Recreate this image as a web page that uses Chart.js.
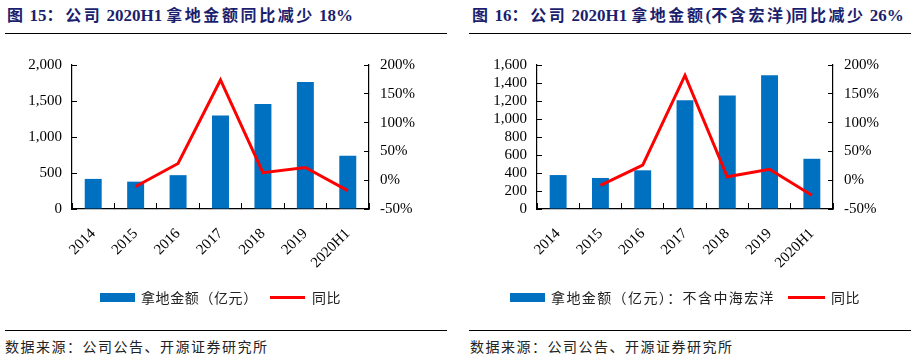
<!DOCTYPE html>
<html>
<head>
<meta charset="utf-8">
<script src="https://cdn.jsdelivr.net/npm/chart.js@4/dist/chart.umd.min.js"></script>
<style>
  html, body { margin:0; padding:0; background:#fff; }
  body { width:919px; height:356px; position:relative; overflow:hidden; }
  .title { position:absolute; top:7px; font-family:"Liberation Serif","Noto Sans CJK SC",serif; font-weight:bold; font-size:16px; color:#1b1f6e; white-space:nowrap; line-height:18px; }
  .title .c { letter-spacing:2.6px; }
  .title .l { font-size:17px; letter-spacing:0; }
  .rule { position:absolute; height:0; border-top:1.5px solid #000; }
  .src { position:absolute; top:337px; font-family:"Noto Sans CJK SC",sans-serif; font-size:14px; color:#222; letter-spacing:1.5px; white-space:nowrap; line-height:18px; }
  .lg-box { position:absolute; top:293px; height:9px; width:35px; background:#0070C0; }
  .lg-line { position:absolute; top:296px; height:3px; background:#FF0000; }
  .lg-txt { position:absolute; top:287px; font-family:"Noto Sans CJK SC",sans-serif; font-size:14px; color:#222; white-space:nowrap; line-height:20px; }
  canvas { position:absolute; }
</style>
</head>
<body>
<div class="title" style="left:7px;"><span class="c">图</span> <span class="l">15</span><span class="c">：公司</span> <span class="l">2020H1</span> <span class="c">拿地金额同比减少</span> <span class="l">18%</span></div>
<div class="title" style="left:472px;"><span class="c">图</span> <span class="l">16</span><span class="c">：公司</span> <span class="l">2020H1</span> <span class="c">拿地金额</span><span class="l">(</span><span class="c">不含宏洋</span><span class="l">)</span><span class="c">同比减少</span> <span class="l">26%</span></div>
<div class="rule" style="left:5px; width:442px; top:33px;"></div>
<div class="rule" style="left:469px; width:442px; top:33px;"></div>
<div class="rule" style="left:5px; width:442px; top:330px;"></div>
<div class="rule" style="left:469px; width:442px; top:330px;"></div>

<canvas id="c1" width="460" height="250" style="left:0px; top:40px;"></canvas>
<canvas id="c2" width="459" height="250" style="left:460px; top:40px;"></canvas>

<div class="lg-box" style="left:100px;"></div>
<div class="lg-txt" style="left:141px; letter-spacing:0.6px;">拿地金额（亿元）</div>
<div class="lg-line" style="left:270px; width:35px;"></div>
<div class="lg-txt" style="left:312px; letter-spacing:0.6px;">同比</div>

<div class="lg-box" style="left:510px;"></div>
<div class="lg-txt" style="left:551px; letter-spacing:1.4px;">拿地金额（亿元）：不含中海宏洋</div>
<div class="lg-line" style="left:788px; width:37px;"></div>
<div class="lg-txt" style="left:831px; letter-spacing:0.6px;">同比</div>

<div class="src" style="left:5px;">数据来源：公司公告、开源证券研究所</div>
<div class="src" style="left:470px;">数据来源：公司公告、开源证券研究所</div>

<script>
// ---- data ----
const categories = ['2014', '2015', '2016', '2017', '2018', '2019', '2020H1'];

// Chart 1: total land acquisition (亿元) and YoY (%)
const landAmount1 = [418, 380, 470, 1298, 1458, 1764, 738];
const yoy1 = [null, -11, 29, 174, 13, 22, -18];

// Chart 2: land acquisition excluding 中海宏洋 (亿元) and YoY (%)
const landAmount2 = [377, 345, 430, 1209, 1262, 1486, 558];
const yoy2 = [null, -9, 26, 182, 6, 19, -26];

// axis settings
const leftMax1 = 2000, leftStep1 = 500;
const leftMax2 = 1600, leftStep2 = 200;
const rightMin = -50, rightMax = 200, rightStep = 50;

const BLUE = '#0070C0', RED = '#FF0000';
const tickFont = { family: 'Liberation Serif', size: 15 };

function makeChart(id, bars, line, leftMax, leftStep, leftW, rightW, barName) {
  return new Chart(document.getElementById(id), {
    data: {
      labels: categories,
      datasets: [
        { type: 'line', label: '同比', data: line, yAxisID: 'yR', borderColor: RED, backgroundColor: RED,
          borderWidth: 3, pointRadius: 0, tension: 0, order: 0, spanGaps: false },
        { type: 'bar', label: barName, data: bars, yAxisID: 'yL', backgroundColor: BLUE,
          barPercentage: 0.4, categoryPercentage: 1.0, order: 1 }
      ]
    },
    options: {
      responsive: false,
      animation: false,
      devicePixelRatio: 1,
      layout: { padding: { top: 19.5, left: 0, right: 0, bottom: 0 } },
      plugins: { legend: { display: false }, tooltip: { enabled: false } },
      scales: {
        x: {
          type: 'category',
          offset: true,
          grid: { display: true, offset: true, drawOnChartArea: false, drawTicks: true, tickLength: -6, color: '#000', lineWidth: 1 },
          border: { display: true, color: '#000', width: 1.2 },
          ticks: { color: '#000', font: tickFont, minRotation: 45, maxRotation: 45, padding: 22, autoSkip: false },
          afterFit: s => { s.height = 81; }
        },
        yL: {
          type: 'linear', position: 'left', min: 0, max: leftMax,
          grid: { display: true, drawOnChartArea: false, drawTicks: true, tickLength: -5, color: '#000', lineWidth: 1 },
          border: { display: true, color: '#000', width: 1.2 },
          ticks: { stepSize: leftStep, color: '#000', font: tickFont, padding: 15, autoSkip: false,
                   callback: v => v.toLocaleString('en-US') },
          afterFit: s => { s.width = leftW; }
        },
        yR: {
          type: 'linear', position: 'right', min: rightMin, max: rightMax,
          grid: { display: true, drawOnChartArea: false, drawTicks: true, tickLength: -5, color: '#000', lineWidth: 1 },
          border: { display: true, color: '#000', width: 1.2 },
          ticks: { stepSize: rightStep, color: '#000', font: tickFont, padding: 16, autoSkip: false,
                   callback: v => v + '%' },
          afterFit: s => { s.width = rightW; }
        }
      }
    }
  });
}

makeChart('c1', landAmount1, yoy1, leftMax1, leftStep1, 72, 91, '拿地金额（亿元）');
makeChart('c2', landAmount2, yoy2, leftMax2, leftStep2, 77, 86, '拿地金额（亿元）：不含中海宏洋');
</script>
</body>
</html>
